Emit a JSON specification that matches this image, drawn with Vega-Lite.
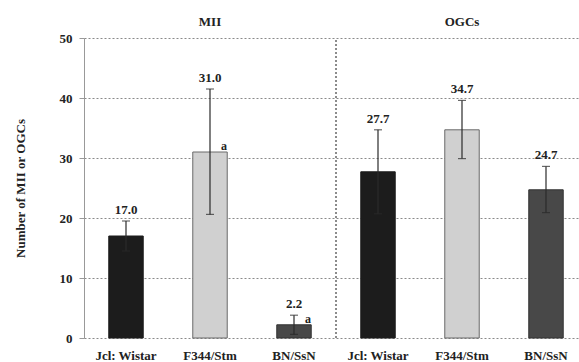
{
  "$schema": "https://vega.github.io/schema/vega-lite/v6.json",
  "autosize": "none",
  "width": 494,
  "height": 300,
  "padding": {"left": 84, "top": 38, "right": 1, "bottom": 24},
  "background": "white",
  "config": {"view": {"stroke": null}, "font": "Liberation Serif"},
  "data": {
    "values": [
      {"key": "MII|Jcl: Wistar", "panel": "MII", "strain": "Jcl: Wistar", "mean": 17.0, "lo": 14.5, "hi": 19.5, "sig": ""},
      {"key": "MII|F344/Stm", "panel": "MII", "strain": "F344/Stm", "mean": 31.0, "lo": 20.6, "hi": 41.5, "sig": "a"},
      {"key": "MII|BN/SsN", "panel": "MII", "strain": "BN/SsN", "mean": 2.2, "lo": 0.6, "hi": 3.8, "sig": "a"},
      {"key": "OGCs|Jcl: Wistar", "panel": "OGCs", "strain": "Jcl: Wistar", "mean": 27.7, "lo": 20.7, "hi": 34.7, "sig": ""},
      {"key": "OGCs|F344/Stm", "panel": "OGCs", "strain": "F344/Stm", "mean": 34.7, "lo": 29.9, "hi": 39.6, "sig": ""},
      {"key": "OGCs|BN/SsN", "panel": "OGCs", "strain": "BN/SsN", "mean": 24.7, "lo": 20.9, "hi": 28.6, "sig": ""}
    ]
  },
  "encoding": {
    "x": {
      "field": "key",
      "type": "nominal",
      "sort": null,
      "scale": {"range": [0, 504], "paddingInner": 0, "paddingOuter": 0},
      "axis": {
        "title": null,
        "domain": false,
        "ticks": false,
        "tickSize": 0,
        "grid": false,
        "labelAngle": 0,
        "labelExpr": "split(datum.label, '|')[1]",
        "labelFont": "Liberation Serif",
        "labelFontSize": 13,
        "labelFontWeight": "bold",
        "labelColor": "#222",
        "labelPadding": 11
      }
    }
  },
  "layer": [
    {
      "mark": {"type": "bar", "width": {"band": 0.41}, "strokeWidth": 1},
      "encoding": {
        "y": {
          "field": "mean",
          "type": "quantitative",
          "scale": {"domain": [0, 50]},
          "axis": {
            "values": [0, 10, 20, 30, 40, 50],
            "title": "Number of MII or OGCs",
            "titleFont": "Liberation Serif",
            "titleFontSize": 13,
            "titleFontWeight": "bold",
            "titleColor": "#222",
            "titlePadding": 32,
            "labelFont": "Liberation Serif",
            "labelFontSize": 13,
            "labelFontWeight": "bold",
            "labelColor": "#222",
            "labelPadding": 7,
            "tickSize": 5,
            "tickColor": "#999",
            "domainColor": "#999",
            "grid": true,
            "gridColor": "#8a8a8a",
            "gridDash": [2, 2]
          }
        },
        "fill": {
          "field": "strain",
          "type": "nominal",
          "scale": {"domain": ["Jcl: Wistar", "F344/Stm", "BN/SsN"], "range": ["#1c1c1c", "#d0d0d0", "#484848"]},
          "legend": null
        },
        "stroke": {
          "field": "strain",
          "type": "nominal",
          "scale": {"domain": ["Jcl: Wistar", "F344/Stm", "BN/SsN"], "range": ["#1c1c1c", "#6a6a6a", "#333333"]},
          "legend": null
        }
      }
    },
    {
      "mark": {"type": "rule", "color": "#2a2a2a", "strokeWidth": 1.2},
      "encoding": {"y": {"field": "lo", "type": "quantitative"}, "y2": {"field": "hi"}}
    },
    {
      "mark": {"type": "tick", "color": "#2a2a2a", "size": 8, "thickness": 1.2, "orient": "horizontal"},
      "encoding": {"y": {"field": "hi", "type": "quantitative"}}
    },
    {
      "mark": {"type": "tick", "color": "#2a2a2a", "size": 8, "thickness": 1.2, "orient": "horizontal"},
      "encoding": {"y": {"field": "lo", "type": "quantitative"}}
    },
    {
      "mark": {"type": "text", "baseline": "bottom", "dy": -4, "fontSize": 13, "fontWeight": "bold", "font": "Liberation Serif", "color": "#222"},
      "encoding": {
        "y": {"field": "hi", "type": "quantitative"},
        "text": {"field": "mean", "type": "quantitative", "format": ".1f"}
      }
    },
    {
      "mark": {"type": "text", "baseline": "bottom", "dx": 14, "dy": 1, "fontSize": 12, "fontWeight": "bold", "font": "Liberation Serif", "color": "#222"},
      "encoding": {
        "y": {"field": "mean", "type": "quantitative"},
        "text": {"field": "sig", "type": "nominal"}
      }
    },
    {
      "mark": {"type": "rule", "color": "#8a8a8a", "strokeWidth": 1, "strokeDash": [2, 2]},
      "encoding": {
        "x": {"datum": "OGCs|Jcl: Wistar", "bandPosition": 0},
        "y": {"datum": 0, "type": "quantitative"},
        "y2": {"datum": 50}
      }
    },
    {
      "transform": [{"filter": "datum.strain == 'F344/Stm'"}],
      "mark": {"type": "text", "baseline": "bottom", "dy": -9, "fontSize": 13, "fontWeight": "bold", "font": "Liberation Serif", "color": "#222"},
      "encoding": {
        "y": {"datum": 50, "type": "quantitative"},
        "text": {"field": "panel", "type": "nominal"}
      }
    }
  ]
}
